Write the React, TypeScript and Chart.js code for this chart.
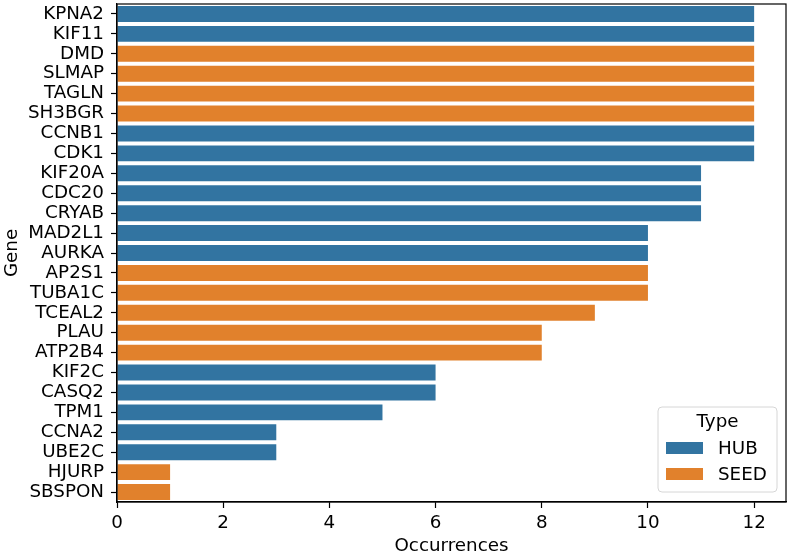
import React, { useEffect, useRef } from "react";
import { Chart, registerables } from "chart.js";

Chart.register(...registerables);

const genes = ["KPNA2","KIF11","DMD","SLMAP","TAGLN","SH3BGR","CCNB1","CDK1","KIF20A","CDC20","CRYAB","MAD2L1","AURKA","AP2S1","TUBA1C","TCEAL2","PLAU","ATP2B4","KIF2C","CASQ2","TPM1","CCNA2","UBE2C","HJURP","SBSPON"];
const counts = [12,12,12,12,12,12,12,12,11,11,11,10,10,10,10,9,8,8,6,6,5,3,3,1,1];
const types = ["HUB","HUB","SEED","SEED","SEED","SEED","HUB","HUB","HUB","HUB","HUB","HUB","HUB","SEED","SEED","SEED","SEED","SEED","HUB","HUB","HUB","HUB","HUB","SEED","SEED"];
const typeNames = ["HUB", "SEED"];
const typeColors = ["#3274A1", "#E1812C"];
const xTicks = [0, 2, 4, 6, 8, 10, 12];

const FONT = "DejaVu Sans";
const FS = 18.3;

const framePlugin = {
  id: "frame",
  afterDraw(chart: any) {
    const { ctx, chartArea: a } = chart;
    ctx.save();
    ctx.strokeStyle = "#000";
    ctx.lineWidth = 1.2;
    ctx.strokeRect(a.left, a.top, a.right - a.left, a.bottom - a.top);

    // legend
    const bx = 658, by = 407, bw = 119, bh = 85, r = 4;
    ctx.beginPath();
    ctx.moveTo(bx + r, by);
    ctx.lineTo(bx + bw - r, by);
    ctx.quadraticCurveTo(bx + bw, by, bx + bw, by + r);
    ctx.lineTo(bx + bw, by + bh - r);
    ctx.quadraticCurveTo(bx + bw, by + bh, bx + bw - r, by + bh);
    ctx.lineTo(bx + r, by + bh);
    ctx.quadraticCurveTo(bx, by + bh, bx, by + bh - r);
    ctx.lineTo(bx, by + r);
    ctx.quadraticCurveTo(bx, by, bx + r, by);
    ctx.closePath();
    ctx.fillStyle = "rgba(255,255,255,0.8)";
    ctx.fill();
    ctx.strokeStyle = "#d6d6d6";
    ctx.lineWidth = 1;
    ctx.stroke();

    ctx.font = `${FS}px "${FONT}"`;
    ctx.fillStyle = "#000";
    ctx.textBaseline = "middle";
    ctx.textAlign = "center";
    ctx.fillText("Type", bx + bw / 2, 422);
    ctx.textAlign = "left";
    typeNames.forEach((t, i) => {
      const cy = 448 + i * 26;
      ctx.fillStyle = typeColors[i];
      ctx.fillRect(666, cy - 6, 37, 12);
      ctx.fillStyle = "#000";
      ctx.fillText(t, 718, cy + 1);
    });
    ctx.restore();
  },
};

export default function App() {
  const ref = useRef<HTMLCanvasElement>(null);
  useEffect(() => {
    document.body.style.margin = "0";
    const datasets = typeNames.map((t, k) => ({
      label: t,
      data: counts.map((v, i) => (types[i] === t ? v : null)),
      backgroundColor: typeColors[k],
      borderWidth: 0,
      barPercentage: 0.8,
      categoryPercentage: 1,
      grouped: false,
    }));
    const chart = new Chart(ref.current as HTMLCanvasElement, {
      type: "bar",
      data: { labels: genes, datasets },
      options: {
        indexAxis: "y",
        responsive: false,
        animation: false,
        devicePixelRatio: 1,
        layout: { padding: { top: 4, right: 2, left: 0, bottom: 0 } },
        plugins: { legend: { display: false }, tooltip: { enabled: false } },
        scales: {
          x: {
            type: "linear",
            min: 0,
            max: 12.6,
            afterBuildTicks: (s: any) => { s.ticks = xTicks.map((v) => ({ value: v })); },
            afterFit: (s: any) => { s.height = 55; s.paddingLeft = 0; s.paddingRight = 0; },
            grid: { drawOnChartArea: false, tickLength: 6, color: "#000", tickWidth: 1.2 },
            border: { display: true, color: "#000", width: 1.2 },
            ticks: { color: "#000", padding: 4, font: { family: FONT, size: FS } },
            title: { display: true, text: "Occurrences", color: "#000", padding: { top: 0, bottom: 0 }, font: { family: FONT, size: FS } },
          },
          y: {
            type: "category",
            offset: true,
            afterFit: (s: any) => { s.width = 117; s.paddingTop = 0; s.paddingBottom = 0; },
            grid: { drawOnChartArea: false, tickLength: 6, color: "#000", tickWidth: 1.2, offset: false },
            border: { display: true, color: "#000", width: 1.2 },
            ticks: { color: "#000", padding: 7, autoSkip: false, font: { family: FONT, size: FS } },
            title: { display: true, text: "Gene", color: "#000", padding: { top: 1, bottom: 0 }, font: { family: FONT, size: FS } },
          },
        },
      },
      plugins: [framePlugin],
    } as any);
    return () => chart.destroy();
  }, []);
  return (
    <div style={{ position: "absolute", left: 0, top: 0, width: 788, height: 557 }}>
      <canvas ref={ref} width={788} height={557} />
    </div>
  );
}
